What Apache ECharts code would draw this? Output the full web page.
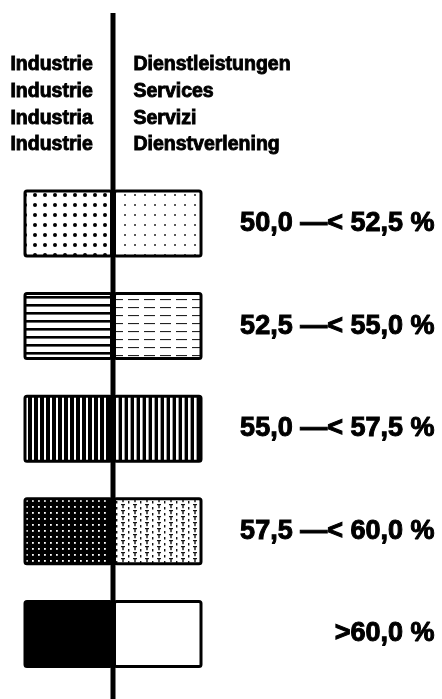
<!DOCTYPE html>
<html>
<head>
<meta charset="utf-8">
<script src="https://cdn.jsdelivr.net/npm/echarts@6/dist/echarts.min.js"></script>
<style>
html,body{margin:0;padding:0;background:#fff;}
#chart{width:442px;height:699px;}
</style>
</head>
<body>
<div id="chart"></div>
<script>
// ---- data ----
const classes = ['50,0 —< 52,5 %', '52,5 —< 55,0 %', '55,0 —< 57,5 %', '57,5 —< 60,0 %', '>60,0 %'];
const industryValues = [-1, -1, -1, -1, -1];   // left half: Industrie
const serviceValues  = [1, 1, 1, 1, 1];        // right half: Dienstleistungen
const industryLabels = ['Industrie', 'Industrie', 'Industria', 'Industrie'];
const serviceLabels  = ['Dienstleistungen', 'Services', 'Servizi', 'Dienstverlening'];

// ---- patterns ----
function tile(w, h, bg, draw) {
  const c = document.createElement('canvas');
  c.width = w; c.height = h;
  const g = c.getContext('2d');
  g.fillStyle = bg; g.fillRect(0, 0, w, h);
  draw(g);
  return { image: c, repeat: 'repeat' };
}
const indPatterns = [
  tile(10, 10, '#fff', g => { g.fillStyle = '#000'; g.beginPath(); g.arc(5, 5, 2, 0, Math.PI * 2); g.fill(); }),
  tile(8, 8, '#fff', g => { g.fillStyle = '#000'; g.fillRect(0, 0, 8, 2.6); }),
  tile(6, 6, '#000', g => { g.fillStyle = '#fff'; g.fillRect(2, 0, 2, 6); }),
  tile(6, 6, '#000', g => { g.fillStyle = '#fff'; g.fillRect(2, 2, 1.8, 1.8); }),
  '#000'
];
const srvPatterns = [
  tile(10, 10, '#fff', g => { g.fillStyle = '#222'; g.beginPath(); g.arc(5, 5, 1, 0, Math.PI * 2); g.fill(); }),
  tile(16, 8, '#fff', g => { g.fillStyle = '#222'; g.fillRect(0, 3, 11, 1.1); }),
  tile(6, 6, '#000', g => { g.fillStyle = '#fff'; g.fillRect(2, 0, 2.6, 6); }),
  tile(12, 6, '#fff', g => { g.fillStyle = '#111'; g.fillRect(1, 0, 4, 1.2); g.fillRect(2.3, 0, 1.4, 4.2); g.fillRect(8, 3, 1.4, 2.5); }),
  '#fff'
];

const chart = echarts.init(document.getElementById('chart'));
const headerFont = { fontSize: 19.5, fontWeight: 'bold', fontFamily: "'Liberation Sans', Arial, sans-serif",
  fill: '#000', stroke: '#000', lineWidth: 0.9 };
const rowY = [65, 92, 119, 145.5];
const headerGraphics = [];
industryLabels.forEach((t, i) => headerGraphics.push({
  type: 'text', left: 10, top: rowY[i] - 11, style: Object.assign({ text: t }, headerFont)
}));
serviceLabels.forEach((t, i) => headerGraphics.push({
  type: 'text', left: 133, top: rowY[i] - 11, style: Object.assign({ text: t }, headerFont)
}));

const barStyle = { borderColor: '#000', borderWidth: 3, borderRadius: 2 };
chart.setOption({
  animation: false,
  backgroundColor: '#fff',
  grid: { left: 23.5, right: 239.5, top: 172.2, bottom: 13.8, containLabel: false },
  xAxis: { type: 'value', min: -1, max: 1, show: false },
  yAxis: {
    type: 'category', data: classes, inverse: true, position: 'right',
    axisLine: { show: false }, axisTick: { show: false }, splitLine: { show: false },
    axisLabel: {
      margin: 232, align: 'right', verticalAlign: 'middle', padding: [6, 0, 0, 0],
      fontSize: 27, fontWeight: 'bold', color: '#000',
      textBorderColor: '#000', textBorderWidth: 1,
      fontFamily: "'Liberation Sans', Arial, sans-serif"
    }
  },
  series: [
    { name: 'Industrie', type: 'bar', stack: 'a', barWidth: 68,
      data: industryValues.map((v, i) => ({ value: v, itemStyle: Object.assign({ color: indPatterns[i] }, barStyle) })) },
    { name: 'Dienstleistungen', type: 'bar', stack: 'b', barWidth: 68, barGap: '-100%',
      data: serviceValues.map((v, i) => ({ value: v, itemStyle: Object.assign({ color: srvPatterns[i] }, barStyle) })) }
  ],
  graphic: headerGraphics
});

const cx = chart.convertToPixel({ xAxisIndex: 0 }, 0);
chart.setOption({
  graphic: headerGraphics.concat([{
    type: 'line', z: 100, shape: { x1: cx, y1: 13, x2: cx, y2: 699 },
    style: { stroke: '#000', lineWidth: 5 }
  }])
});
</script>
</body>
</html>
